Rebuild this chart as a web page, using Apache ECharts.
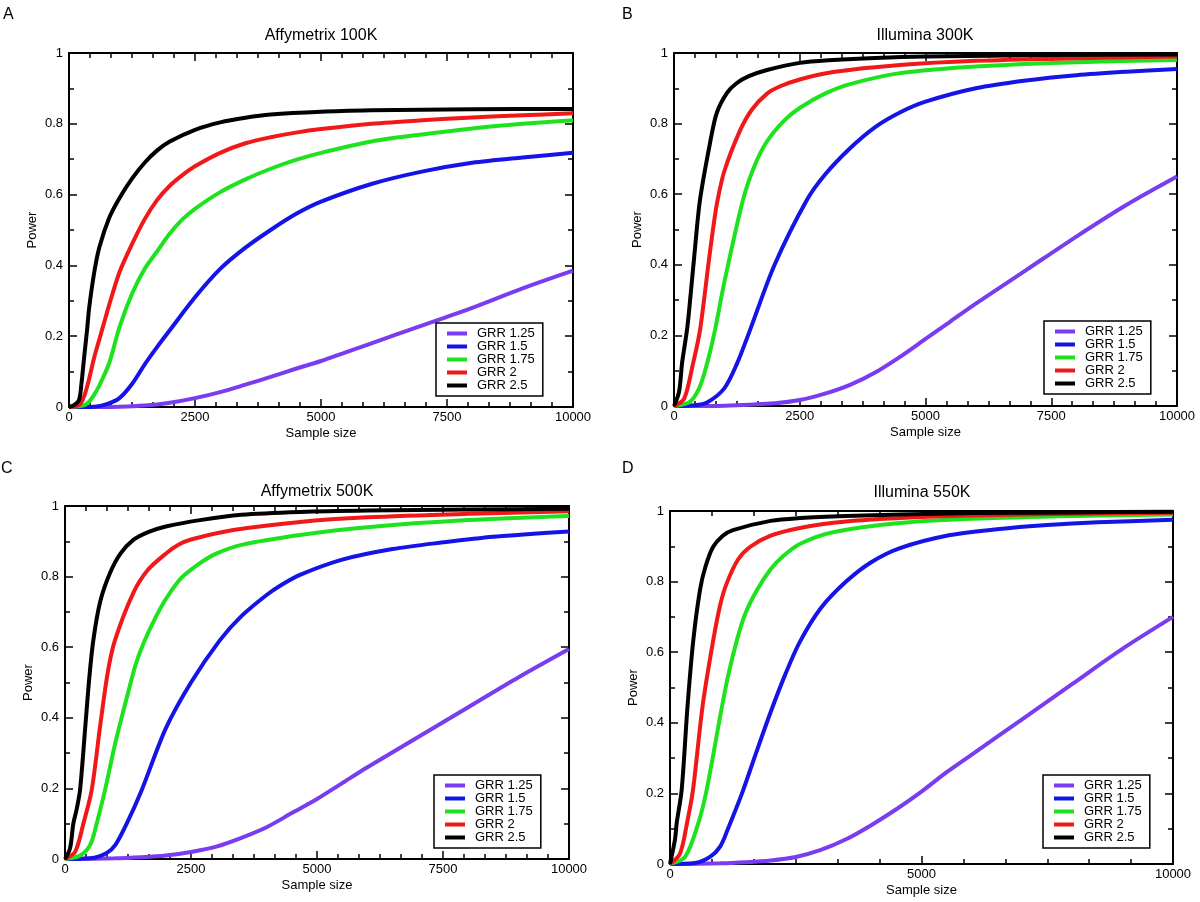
<!DOCTYPE html>
<html><head><meta charset="utf-8">
<script src="https://cdn.jsdelivr.net/npm/echarts@6/dist/echarts.min.js"></script>
<style>html,body{margin:0;padding:0;background:#fff}#c{width:1200px;height:902px}</style>
</head><body><div id="c"></div>
<script>
const seriesNames = ['GRR 1.25','GRR 1.5','GRR 1.75','GRR 2','GRR 2.5'];
const panelTitles = ['Affymetrix 100K','Illumina 300K','Affymetrix 500K','Illumina 550K'];
const panelLetters = ['A','B','C','D'];
const xTickInterval = [2500,2500,2500,5000];
const yTickLabels = ['0','0.2','0.4','0.6','0.8','1'];

// Panel A: Affymetrix 100K  [sample size, power]
const A_125 = [[0,0],[1000,0.001],[1500,0.004],[2000,0.012],[2500,0.025],[3000,0.042],[3500,0.063],[4000,0.085],[4500,0.108],[5000,0.13],[6000,0.18],[7000,0.23],[8000,0.28],[9000,0.335],[10000,0.385]];
const A_15 = [[0,0],[500,0.001],[750,0.008],[1000,0.025],[1250,0.065],[1500,0.12],[1750,0.17],[2000,0.217],[2500,0.31],[3000,0.39],[3500,0.45],[4000,0.5],[4500,0.545],[5000,0.58],[6000,0.63],[7000,0.665],[8000,0.69],[9000,0.705],[10000,0.718]];
const A_175 = [[0,0],[300,0.005],[400,0.015],[500,0.035],[600,0.06],[800,0.125],[1000,0.225],[1250,0.32],[1500,0.39],[1750,0.44],[2000,0.49],[2250,0.53],[2500,0.56],[3000,0.607],[3500,0.643],[4000,0.673],[4500,0.698],[5000,0.718],[6000,0.75],[7000,0.77],[8000,0.787],[9000,0.8],[10000,0.81]];
const A_2 = [[0,0],[200,0.005],[300,0.03],[400,0.08],[500,0.14],[600,0.19],[700,0.24],[800,0.29],[1000,0.38],[1250,0.46],[1500,0.53],[1750,0.585],[2000,0.625],[2250,0.655],[2500,0.68],[3000,0.718],[3500,0.745],[4000,0.762],[4500,0.775],[5000,0.785],[6000,0.8],[7000,0.81],[8000,0.818],[9000,0.824],[10000,0.83]];
const A_25 = [[0,0],[100,0.005],[200,0.02],[250,0.07],[300,0.14],[360,0.22],[400,0.28],[500,0.38],[600,0.45],[800,0.535],[1000,0.59],[1250,0.645],[1500,0.69],[1750,0.725],[2000,0.75],[2500,0.783],[3000,0.804],[3500,0.817],[4000,0.826],[5000,0.834],[6000,0.838],[7000,0.84],[8000,0.841],[10000,0.842]];

// Panel B: Illumina 300K
const B_125 = [[0,0],[1000,0.001],[2000,0.008],[2500,0.017],[3000,0.035],[3500,0.06],[4000,0.095],[4500,0.14],[5000,0.19],[5500,0.24],[6000,0.29],[7000,0.385],[8000,0.48],[9000,0.57],[10000,0.65]];
const B_15 = [[0,0],[400,0.002],[656,0.01],[1000,0.05],[1252,0.12],[1511,0.215],[2000,0.4],[2644,0.584],[3000,0.655],[3500,0.73],[4000,0.79],[4500,0.832],[5000,0.862],[6000,0.9],[7000,0.922],[8000,0.937],[9000,0.947],[10000,0.955]];
const B_175 = [[0,0],[300,0.01],[500,0.05],[656,0.12],[815,0.215],[1000,0.35],[1372,0.584],[1600,0.68],[1850,0.75],[2200,0.81],[2505,0.845],[3000,0.885],[3500,0.912],[4493,0.943],[6000,0.962],[8000,0.974],[10000,0.98]];
const B_2 = [[0,0],[200,0.02],[378,0.12],[517,0.215],[700,0.42],[780,0.505],[855,0.575],[1000,0.665],[1312,0.78],[1550,0.84],[1850,0.885],[2100,0.905],[2500,0.925],[3160,0.946],[4493,0.966],[6000,0.978],[8000,0.985],[10000,0.99]];
const B_25 = [[0,0],[100,0.04],[159,0.12],[200,0.16],[258,0.215],[300,0.27],[400,0.42],[517,0.584],[716,0.745],[850,0.83],[1054,0.887],[1250,0.915],[1500,0.935],[1850,0.952],[2500,0.972],[3160,0.98],[4000,0.986],[5000,0.99],[7500,0.994],[10000,0.996]];

// Panel C: Affymetrix 500K
const C_125 = [[0,0],[1000,0.002],[1500,0.005],[2000,0.01],[2500,0.02],[3000,0.035],[3500,0.06],[4000,0.09],[4500,0.13],[5000,0.17],[5500,0.215],[6000,0.26],[7000,0.345],[8000,0.43],[9000,0.515],[10000,0.595]];
const C_15 = [[0,0],[500,0.002],[827,0.017],[1000,0.04],[1224,0.1],[1521,0.195],[2000,0.37],[2500,0.5],[3075,0.62],[3500,0.688],[4000,0.748],[4300,0.777],[4663,0.805],[5500,0.848],[6500,0.878],[7500,0.897],[8500,0.913],[10000,0.928]];
const C_175 = [[0,0],[300,0.01],[500,0.04],[628,0.1],[794,0.195],[1000,0.33],[1250,0.47],[1400,0.55],[1554,0.61],[1800,0.685],[2017,0.74],[2300,0.795],[2679,0.838],[3000,0.865],[3500,0.89],[4663,0.918],[6000,0.94],[8000,0.96],[10000,0.972]];
const C_2 = [[0,0],[200,0.02],[364,0.1],[529,0.195],[700,0.38],[850,0.53],[992,0.62],[1356,0.754],[1650,0.82],[2017,0.867],[2250,0.89],[2500,0.905],[3340,0.932],[4663,0.955],[6000,0.968],[8000,0.978],[10000,0.985]];
const C_25 = [[0,0],[100,0.03],[165,0.1],[230,0.14],[298,0.195],[400,0.37],[480,0.51],[562,0.62],[700,0.73],[893,0.81],[1100,0.865],[1356,0.904],[1650,0.926],[2000,0.942],[2679,0.96],[3500,0.975],[4663,0.983],[6000,0.987],[8000,0.99],[10000,0.992]];

// Panel D: Illumina 550K
const D_125 = [[0,0],[1000,0.002],[1500,0.005],[2000,0.01],[2500,0.02],[3000,0.04],[3500,0.07],[4000,0.11],[4500,0.155],[5000,0.205],[5500,0.26],[6000,0.31],[7000,0.41],[8000,0.51],[9000,0.61],[10000,0.7]];
const D_15 = [[0,0],[500,0.003],[795,0.02],[1000,0.05],[1153,0.1],[1431,0.2],[1700,0.31],[2000,0.43],[2300,0.54],[2584,0.63],[3000,0.725],[3500,0.8],[4000,0.855],[4573,0.895],[5500,0.93],[6500,0.948],[7500,0.96],[8500,0.968],[10000,0.975]];
const D_175 = [[0,0],[300,0.02],[563,0.116],[729,0.21],[1000,0.42],[1150,0.53],[1332,0.635],[1500,0.71],[1730,0.776],[2000,0.835],[2247,0.872],[2600,0.908],[3240,0.94],[4573,0.966],[6000,0.978],[8000,0.986],[10000,0.99]];
const D_2 = [[0,0],[200,0.03],[338,0.116],[457,0.21],[650,0.45],[861,0.635],[1000,0.735],[1127,0.795],[1350,0.862],[1590,0.898],[2000,0.93],[2584,0.952],[3500,0.97],[4573,0.98],[6000,0.987],[8000,0.992],[10000,0.995]];
const D_25 = [[0,0],[100,0.07],[133,0.116],[232,0.21],[350,0.45],[464,0.635],[596,0.776],[700,0.84],[855,0.898],[1050,0.93],[1252,0.946],[2000,0.972],[2584,0.98],[3500,0.986],[4573,0.99],[6000,0.994],[8000,0.996],[10000,0.998]];

const panelData = [
  [A_125, A_15, A_175, A_2, A_25],
  [B_125, B_15, B_175, B_2, B_25],
  [C_125, C_15, C_175, C_2, C_25],
  [D_125, D_15, D_175, D_2, D_25]
];

const colors = ['#7a3cf0','#1414e6','#1ee21e','#f01818','#000000'];
const FONT = 'Liberation Sans, Arial, Helvetica, sans-serif';
const grids = [
  {left:69, top:53, width:504, height:354},
  {left:674, top:53, width:503, height:353},
  {left:65, top:506, width:504, height:353},
  {left:670, top:511, width:503, height:353}
];
const legendPos = [
  {left:436, top:323},{left:1044, top:321},{left:434, top:775},{left:1043, top:775}
];
const titlePos = [[321,36],[925,36],[317,492],[922,493]];
const letterPos = [[3,15],[622,15],[1,469],[622,469]];

const axisLineStyle = {show:true, onZero:false, lineStyle:{color:'#000', width:2}};
const tickStyle = {show:true, inside:true, length:8, lineStyle:{color:'#000', width:1.5}};
const minorStyle = (n) => ({show:true, splitNumber:n, length:5, lineStyle:{color:'#000', width:1.5}});

const xAxes = [], yAxes = [], series = [], legends = [], graphics = [];
grids.forEach((g, i) => {
  const iv = xTickInterval[i];
  const minorN = 6;
  xAxes.push({type:'value', gridIndex:i, min:0, max:10000, interval:iv, position:'bottom',
    name:'Sample size', nameLocation:'middle', nameGap:20,
    nameTextStyle:{color:'#000', fontSize:13, fontFamily:FONT},
    axisLine:axisLineStyle, axisTick:tickStyle, minorTick:minorStyle(minorN),
    splitLine:{show:false},
    axisLabel:{color:'#000', fontSize:13, fontFamily:FONT, margin:4,
      formatter:(v) => String(Math.round(v))}});
  xAxes.push({type:'value', gridIndex:i, min:0, max:10000, interval:iv, position:'top',
    axisLine:axisLineStyle, axisTick:tickStyle, minorTick:minorStyle(minorN),
    splitLine:{show:false}, axisLabel:{show:false}});
  yAxes.push({type:'value', gridIndex:i, min:0, max:1, interval:0.2, position:'left',
    name:'Power', nameLocation:'middle', nameGap:30,
    nameTextStyle:{color:'#000', fontSize:13, fontFamily:FONT},
    axisLine:axisLineStyle, axisTick:tickStyle, minorTick:minorStyle(2),
    splitLine:{show:false},
    axisLabel:{color:'#000', fontSize:13, fontFamily:FONT, margin:6,
      formatter:(v) => yTickLabels[Math.round(v/0.2)]}});
  yAxes.push({type:'value', gridIndex:i, min:0, max:1, interval:0.2, position:'right',
    axisLine:axisLineStyle, axisTick:tickStyle, minorTick:minorStyle(2),
    splitLine:{show:false}, axisLabel:{show:false}});
  panelData[i].forEach((d, k) => {
    series.push({type:'line', name:seriesNames[k], xAxisIndex:2*i, yAxisIndex:2*i,
      data:d, showSymbol:false, smooth:0.3,
      lineStyle:{color:colors[k], width:4}, itemStyle:{color:colors[k]},
      z:2+k, silent:true, animation:false});
  });
  legends.push({show:true, orient:'vertical', left:legendPos[i].left, top:legendPos[i].top,
    data:seriesNames, icon:'rect', itemWidth:20, itemHeight:4, itemGap:0,
    padding:[4,8,4,11], backgroundColor:'#fff', borderColor:'#000', borderWidth:1.5,
    selectedMode:false,
    textStyle:{color:'#000', fontSize:13, fontFamily:FONT, lineHeight:11.5, padding:[0,0,0,5]}});
  graphics.push({type:'text', z:100,
    style:{text:panelTitles[i], fill:'#000', font:'16px ' + FONT, textAlign:'center', textVerticalAlign:'middle'},
    position:[titlePos[i][0], titlePos[i][1]]});
  graphics.push({type:'text', z:100,
    style:{text:panelLetters[i], fill:'#000', font:'16px ' + FONT, textAlign:'left', textVerticalAlign:'middle'},
    position:[letterPos[i][0], letterPos[i][1]]});
});

const chart = echarts.init(document.getElementById('c'), null, {renderer:'canvas'});
chart.setOption({
  animation:false,
  backgroundColor:'#fff',
  grid:grids,
  xAxis:xAxes, yAxis:yAxes,
  legend:legends,
  series:series,
  graphic:graphics
});
</script></body></html>
